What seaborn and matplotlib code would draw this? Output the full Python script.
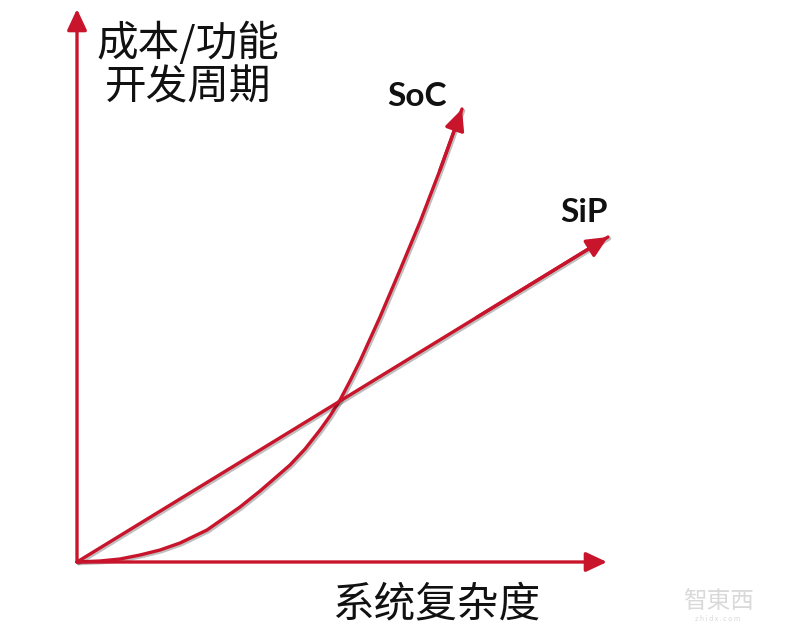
import matplotlib
matplotlib.use("Agg")
import matplotlib.pyplot as plt
import matplotlib.patheffects as pe
import seaborn as sns
import pandas as pd

sns.set_theme(style="white")
plt.rcParams['font.family'] = ['Noto Sans CJK SC', 'DejaVu Sans']

# conceptual data (units: system complexity vs cost/function dev cycle)
soc_x = [0, 23, 43, 63, 83, 103, 130, 163, 183, 213, 228, 243, 253, 263, 273, 283, 303, 323, 343, 363, 385]
soc_y = [0, 1, 3, 7, 12, 19, 32, 55, 71, 97, 113, 132, 146, 162, 181, 201, 245, 292, 340, 392, 453]
sip_x = [0, 531]
sip_y = [0, 325]
axis_x_end = 530
axis_y_end = 553

x_label = "系统复杂度"
y_label = "成本/功能\n开发周期"
series_names = ["SoC", "SiP"]

RED = "#C8152B"

df = pd.concat([
    pd.DataFrame({"x": soc_x, "y": soc_y, "s": series_names[0]}),
    pd.DataFrame({"x": sip_x, "y": sip_y, "s": series_names[1]}),
])

fig = plt.figure(figsize=(8, 6.32), dpi=100)
ax = fig.add_axes([0, 0, 1, 1])
ax.set_xlim(-77, 723)
ax.set_ylim(-70, 562)
ax.axis("off")

shadow = [pe.SimpleLineShadow(offset=(1.2, -1.2), alpha=0.25, shadow_color="black"), pe.Normal()]

sns.lineplot(data=df, x="x", y="y", hue="s", palette=[RED, RED], sort=False,
             estimator=None, lw=2.4, legend=False, ax=ax)
for ln in ax.get_lines():
    ln.set_path_effects(shadow)
    ln.set_solid_capstyle("round")
    ln.set_solid_joinstyle("round")

arrow_kw = dict(arrowstyle="-|>,head_length=0.75,head_width=0.35", color=RED, lw=2.4,
                mutation_scale=17, shrinkA=0, shrinkB=0)

# axes arrows
ax.annotate("", xy=(axis_x_end, 0), xytext=(0, 0), arrowprops=arrow_kw)
ax.annotate("", xy=(0, axis_y_end), xytext=(0, 0), arrowprops=arrow_kw)
# series arrow heads
ax.annotate("", xy=(soc_x[-1], soc_y[-1]), xytext=(soc_x[-2], soc_y[-2]), arrowprops=arrow_kw)
ax.annotate("", xy=(sip_x[-1], sip_y[-1]), xytext=(sip_x[0] + 400, sip_y[0] + 400 * sip_y[1] / sip_x[1]),
            arrowprops=arrow_kw)

# labels
ax.text(111, 497, y_label, ha="center", va="center", fontsize=30, color="#111111",
        linespacing=1.1)
ax.text(359, -43, x_label, ha="center", va="center", fontsize=30, color="#111111")
ax.text(340, 466, series_names[0], ha="center", va="center", fontsize=24,
        fontweight="bold", family=["Lato", "DejaVu Sans"], color="#111111")
ax.text(507, 349, series_names[1], ha="center", va="center", fontsize=24,
        fontweight="bold", family=["Lato", "DejaVu Sans"], color="#111111")

# watermark
ax.text(641, -39, "智東西", ha="center", va="center", fontsize=17, color="#d9d9d9",
        family=["Noto Sans CJK TC", "DejaVu Sans"])
ax.text(641, -57, "z h i d x . c o m", ha="center", va="center", fontsize=5, color="#d9d9d9")

fig.savefig("out.png", dpi=100)
